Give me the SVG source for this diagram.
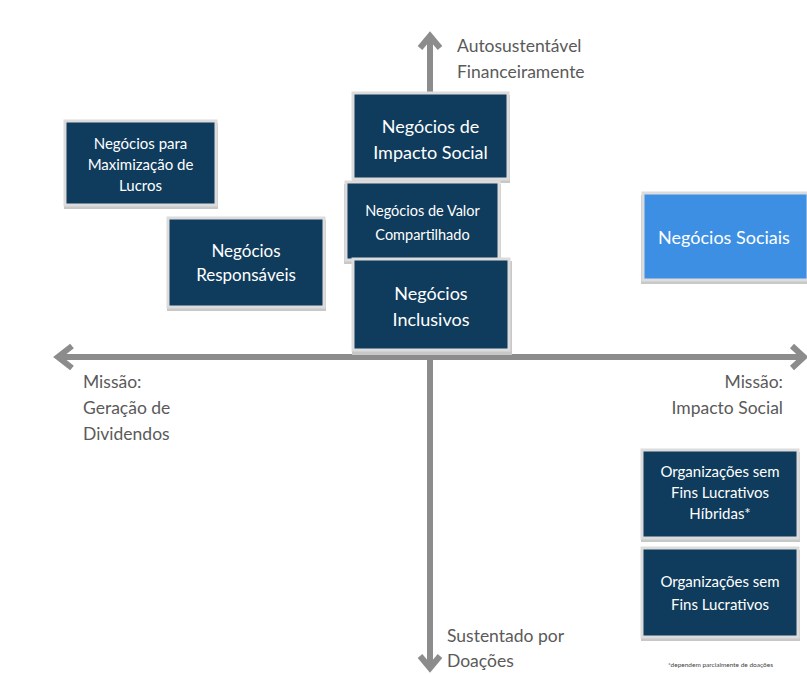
<svg xmlns="http://www.w3.org/2000/svg" width="807" height="675" viewBox="0 0 807 675">
<defs>
<style>
.box{fill:#0f3b5c;stroke:#dcdcdc;stroke-width:3}
.sh{fill:#c8c8c8}
.bt{font-family:Lato,"Open Sans",sans-serif;fill:#ffffff;text-anchor:middle}
.ax{font-family:Lato,"Open Sans",sans-serif;fill:#5a5a5a;font-size:17.5px}
.axis{stroke:#8c8c8c;stroke-width:6;fill:none}
.head{fill:none;stroke:#8c8c8c;stroke-width:6;stroke-linecap:butt;stroke-linejoin:miter}
</style>
</defs>
<rect width="807" height="675" fill="#ffffff"/>
<g id="connectors">
<line class="axis" x1="430" y1="36" x2="430" y2="668"/>
<line class="axis" x1="58" y1="357" x2="804" y2="357"/>
<polyline class="head" points="420,48 430,36 440,48"/>
<polyline class="head" points="420,656 430,668 440,656"/>
<polyline class="head" points="72,346 58,357 72,368"/>
<polyline class="head" points="792,346 804,357 792,368"/>
</g>
<g id="axis-labels">
<text class="ax" x="457" y="52">Autosustentável</text>
<text class="ax" x="457" y="78">Financeiramente</text>
<text class="ax" x="83" y="388">Missão:</text>
<text class="ax" x="83" y="414">Geração de</text>
<text class="ax" x="83" y="440">Dividendos</text>
<text class="ax" x="783" y="388" text-anchor="end">Missão:</text>
<text class="ax" x="783" y="414" text-anchor="end">Impacto Social</text>
<text class="ax" x="447" y="642">Sustentado por</text>
<text class="ax" x="447" y="667">Doações</text>
<text x="668" y="667" font-family="Lato,'Open Sans',sans-serif" font-size="6.5" fill="#444">*dependem parcialmente de doações</text>
</g>
<g id="n-lucros">
<rect class="sh" x="64" y="123" width="154" height="86"/>
<rect class="box" x="65" y="121" width="151" height="84"/>
<text class="bt" font-size="15" x="140.5" y="149">Negócios para</text>
<text class="bt" font-size="15" x="140.5" y="170">Maximização de</text>
<text class="bt" font-size="15" x="140.5" y="191">Lucros</text>
</g>
<g id="n-responsaveis">
<rect class="sh" x="167" y="220" width="159" height="91"/>
<rect class="box" x="168" y="218" width="156" height="89"/>
<text class="bt" font-size="17" x="246" y="257">Negócios</text>
<text class="bt" font-size="17" x="246" y="281">Responsáveis</text>
</g>
<g id="n-impacto">
<rect class="sh" x="352" y="95" width="158" height="88"/>
<rect class="box" x="353" y="93" width="155" height="86"/>
<text class="bt" font-size="18" x="430.5" y="133">Negócios de</text>
<text class="bt" font-size="18" x="430.5" y="159">Impacto Social</text>
</g>
<g id="n-valor">
<rect class="sh" x="344" y="184" width="157" height="80"/>
<rect class="box" x="346" y="182" width="153" height="78"/>
<text class="bt" font-size="14.5" x="422.5" y="216">Negócios de Valor</text>
<text class="bt" font-size="14.5" x="422.5" y="240">Compartilhado</text>
</g>
<g id="n-inclusivos">
<rect class="sh" x="352" y="261" width="160" height="94"/>
<rect class="box" x="353" y="259" width="156" height="91"/>
<text class="bt" font-size="18" x="431" y="300">Negócios</text>
<text class="bt" font-size="18" x="431" y="326">Inclusivos</text>
</g>
<g id="n-sociais">
<rect class="sh" x="641" y="195" width="168" height="89"/>
<rect x="643" y="193" width="165" height="87" fill="#3d8fe3" stroke="#dcdcdc" stroke-width="3"/>
<text class="bt" font-size="18" x="724" y="244">Negócios Sociais</text>
</g>
<g id="n-hibridas">
<rect class="sh" x="641" y="452" width="159" height="90"/>
<rect class="box" x="642" y="450" width="156" height="88"/>
<text class="bt" font-size="15" x="720" y="477">Organizações sem</text>
<text class="bt" font-size="15" x="720" y="498">Fins Lucrativos</text>
<text class="bt" font-size="15" x="720" y="519">Híbridas*</text>
</g>
<g id="n-sem-fins">
<rect class="sh" x="641" y="550" width="159" height="91"/>
<rect class="box" x="642" y="548" width="156" height="89"/>
<text class="bt" font-size="15" x="720" y="587">Organizações sem</text>
<text class="bt" font-size="15" x="720" y="610">Fins Lucrativos</text>
</g>
</svg>
